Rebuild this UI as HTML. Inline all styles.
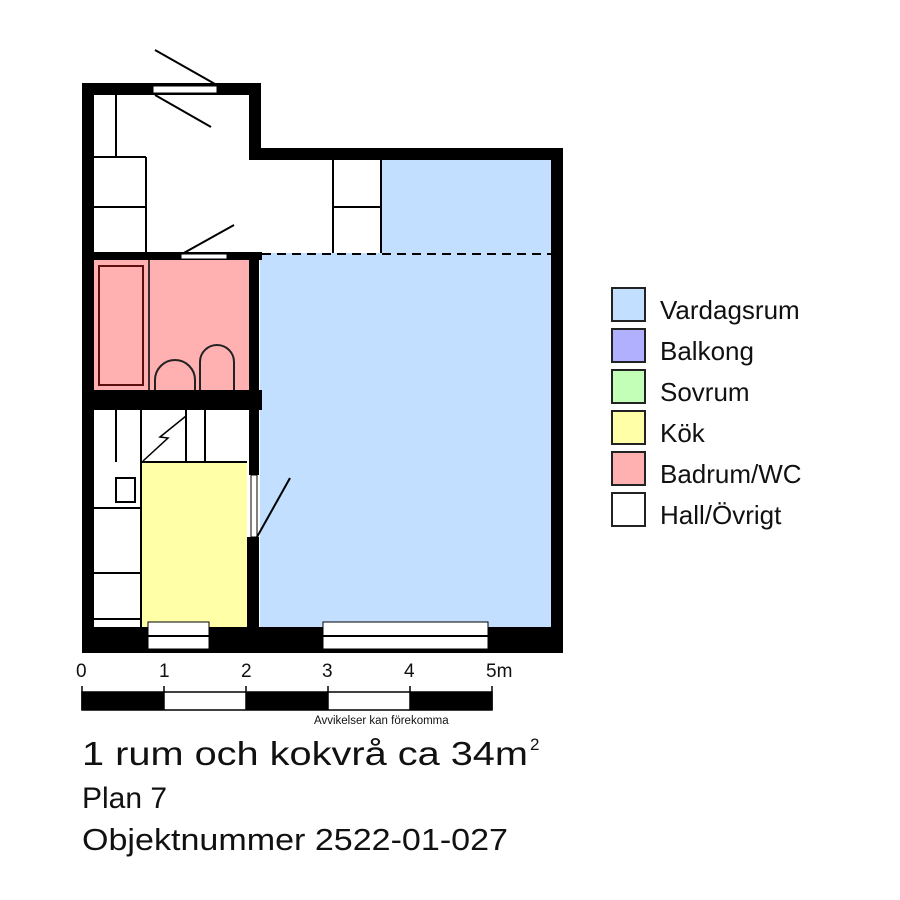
<!DOCTYPE html>
<html><head><meta charset="utf-8"><style>body{margin:0;background:#fff}svg{display:block}</style></head>
<body>
<svg width="900" height="900" viewBox="0 0 900 900" xmlns="http://www.w3.org/2000/svg" font-family="Liberation Sans, sans-serif">
<rect width="900" height="900" fill="#fff"/>
<rect x="260" y="253" width="292" height="375" fill="#c2dfff"/>
<rect x="381" y="160" width="171" height="94" fill="#c2dfff"/>
<rect x="94" y="260" width="156" height="130" fill="#ffb0b0"/>
<rect x="141" y="462" width="106" height="166" fill="#ffffa8"/>
<g fill="#000">
<rect x="82" y="83" width="12" height="570"/>
<rect x="82" y="83" width="178" height="12"/>
<rect x="249" y="83" width="12" height="77"/>
<rect x="249" y="148" width="314" height="12"/>
<rect x="551" y="148" width="12" height="505"/>
<rect x="82" y="627" width="481" height="26"/>
<rect x="82" y="252" width="180" height="8"/>
<rect x="82" y="390" width="180" height="20"/>
<rect x="249" y="252" width="10" height="223"/>
<rect x="247" y="537" width="12" height="92"/>
</g>
<rect x="153" y="86" width="64" height="7" fill="#fff" stroke="#000" stroke-width="1"/>
<rect x="181" y="254" width="46" height="5" fill="#fff" stroke="#000" stroke-width="1"/>
<rect x="251" y="475" width="6" height="62" fill="#fff" stroke="#000" stroke-width="1"/>
<rect x="148" y="622" width="61" height="27" fill="#fff" stroke="#000" stroke-width="1"/>
<line x1="148" y1="636" x2="209" y2="636" stroke="#000" stroke-width="2"/>
<rect x="323" y="622" width="165" height="27" fill="#fff" stroke="#000" stroke-width="1"/>
<line x1="323" y1="636" x2="488" y2="636" stroke="#000" stroke-width="2"/>
<g stroke="#000" stroke-width="2" fill="none">
<line x1="155" y1="50" x2="215" y2="84"/>
<line x1="155" y1="95" x2="211" y2="127"/>
<line x1="182" y1="254" x2="234" y2="225"/>
<line x1="257" y1="537" x2="290" y2="478"/>
<line x1="116" y1="95" x2="116" y2="157"/>
<line x1="94" y1="157" x2="146" y2="157"/>
<line x1="146" y1="157" x2="146" y2="253"/>
<line x1="94" y1="207" x2="146" y2="207"/>
<line x1="333" y1="160" x2="333" y2="253"/>
<line x1="333" y1="207" x2="381" y2="207"/>
<line x1="381" y1="160" x2="381" y2="253"/>
<line x1="262" y1="254" x2="551" y2="254" stroke-dasharray="9,6"/>
<rect x="99" y="266" width="44" height="119" stroke="#5a1010"/>
<line x1="149" y1="260" x2="149" y2="390" stroke-width="1.5"/>
<path d="M155 390 V380 A20 20 0 0 1 195 380 V390" stroke="#222"/>
<path d="M200 390 V362 A17 17 0 0 1 234 362 V390" stroke="#222"/>
<line x1="116" y1="410" x2="116" y2="462"/>
<line x1="141" y1="410" x2="141" y2="628"/>
<line x1="186" y1="410" x2="186" y2="462"/>
<line x1="205" y1="410" x2="205" y2="462"/>
<line x1="141" y1="462" x2="247" y2="462"/>
<line x1="94" y1="508" x2="141" y2="508"/>
<line x1="94" y1="573" x2="141" y2="573"/>
<line x1="94" y1="619" x2="141" y2="619"/>
<rect x="116" y="478" width="19" height="24"/>
<path d="M143 461 L168 438 L160 437 L186 416" stroke-width="1.5"/>
</g>
<g font-size="19" fill="#111">
<text x="76" y="677">0</text><text x="159" y="677">1</text><text x="241" y="677">2</text><text x="322" y="677">3</text><text x="404" y="677">4</text><text x="486" y="677">5m</text>
</g>
<rect x="82" y="692" width="410" height="18" fill="#fff" stroke="#000" stroke-width="1.5"/>
<g fill="#000"><rect x="82" y="692" width="82" height="18"/><rect x="246" y="692" width="82" height="18"/><rect x="410" y="692" width="82" height="18"/></g>
<g stroke="#000" stroke-width="1.5"><line x1="82" y1="686" x2="82" y2="710"/><line x1="164" y1="686" x2="164" y2="710"/><line x1="246" y1="686" x2="246" y2="710"/><line x1="328" y1="686" x2="328" y2="710"/><line x1="410" y1="686" x2="410" y2="710"/><line x1="492" y1="686" x2="492" y2="710"/></g>
<text x="314" y="724" font-size="11.5" fill="#111">Avvikelser kan förekomma</text>
<g stroke="#222" stroke-width="2">
<rect x="612" y="288" width="33" height="33" fill="#c2dfff"/>
<rect x="612" y="329" width="33" height="33" fill="#b0b0ff"/>
<rect x="612" y="370" width="33" height="33" fill="#c4ffb8"/>
<rect x="612" y="411" width="33" height="33" fill="#ffffa8"/>
<rect x="612" y="452" width="33" height="33" fill="#ffb0b0"/>
<rect x="612" y="493" width="33" height="33" fill="#fff"/>
</g>
<g font-size="26" fill="#111">
<text x="660" y="319">Vardagsrum</text>
<text x="660" y="360">Balkong</text>
<text x="660" y="401">Sovrum</text>
<text x="660" y="442">Kök</text>
<text x="660" y="483">Badrum/WC</text>
<text x="660" y="524">Hall/Övrigt</text>
</g>
<g fill="#111">
<text x="82" y="765" font-size="33" textLength="446" lengthAdjust="spacingAndGlyphs">1 rum och kokvrå ca 34m</text>
<text x="530" y="750" font-size="17">2</text>
<text x="82" y="808" font-size="30">Plan 7</text>
<text x="82" y="850" font-size="31" textLength="426" lengthAdjust="spacingAndGlyphs">Objektnummer 2522-01-027</text>
</g>
</svg>
</body></html>
